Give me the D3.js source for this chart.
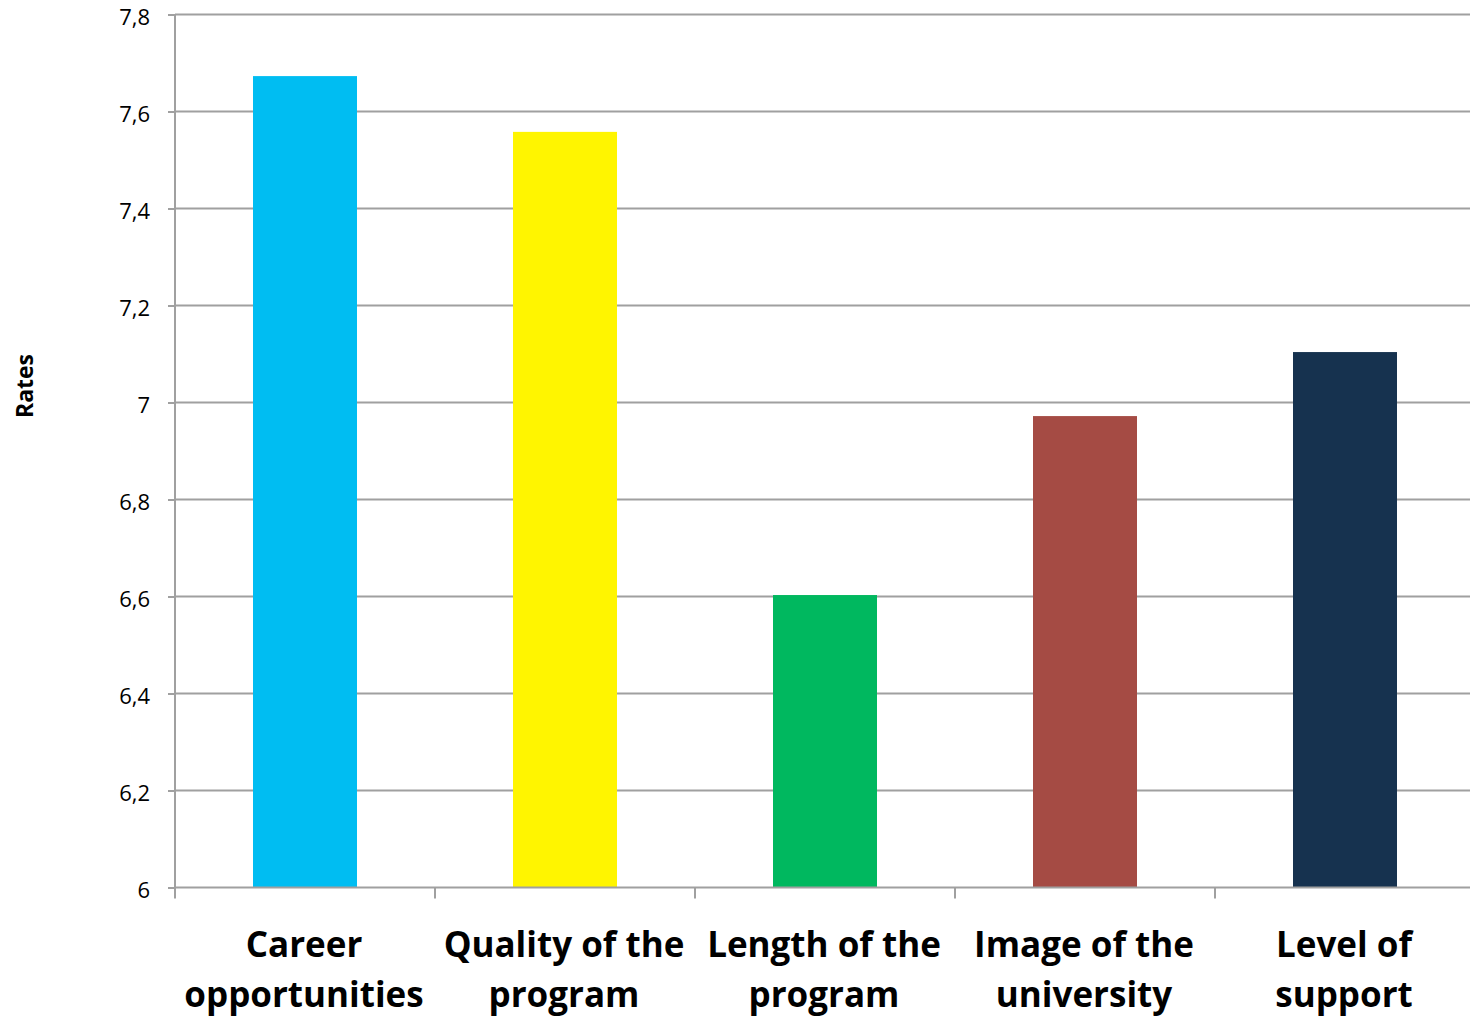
<!DOCTYPE html>
<html>
<head>
<meta charset="utf-8">
<script src="https://cdn.jsdelivr.net/npm/d3@7"></script>
<style>
  html, body { margin: 0; padding: 0; background: #fff; }
  svg { display: block; }
  text { font-family: "Open Sans", Lato, sans-serif; fill: #000; }
</style>
</head>
<body>
<svg id="chart" width="1470" height="1017"></svg>
<script>
// Survey rates per criterion
const categories = [
  ["Career", "opportunities"],
  ["Quality of the", "program"],
  ["Length of the", "program"],
  ["Image of the", "university"],
  ["Level of", "support"]
];
const rates = [7.673, 7.558, 6.603, 6.972, 7.104];
const colors = ["#00BDF2", "#FFF500", "#00B85F", "#A54B44", "#16324F"];
const yTicks = [6, 6.2, 6.4, 6.6, 6.8, 7, 7.2, 7.4, 7.6, 7.8];
const yLabel = "Rates";

const svg = d3.select("#chart");
const plotLeft = 175, plotRight = 1475, plotTop = 14.5, plotBottom = 887.5;

const x = d3.scaleBand()
  .domain(d3.range(categories.length))
  .range([plotLeft, plotRight])
  .paddingInner(0.6)
  .paddingOuter(0.3);

const y = d3.scaleLinear().domain([6, 7.8]).range([plotBottom, plotTop]);

const fmt = v => String(+v.toFixed(1)).replace(".", ",");

// horizontal gridlines
svg.append("g")
  .selectAll("line")
  .data(yTicks.filter(t => t > 6))
  .join("line")
  .attr("x1", plotLeft).attr("x2", 1470)
  .attr("y1", d => y(d)).attr("y2", d => y(d))
  .attr("stroke", "#a0a0a0").attr("stroke-width", 2);

// bars
svg.append("g")
  .selectAll("rect")
  .data(rates)
  .join("rect")
  .attr("x", (d, i) => x(i))
  .attr("width", x.bandwidth())
  .attr("y", d => y(d))
  .attr("height", d => y(6) - y(d))
  .attr("fill", (d, i) => colors[i]);

// y axis
const yAxis = svg.append("g")
  .attr("transform", `translate(${plotLeft},0)`)
  .call(d3.axisLeft(y).tickValues(yTicks).tickFormat(fmt).tickSize(7).tickPadding(18));
yAxis.select(".domain").attr("stroke", "#a0a0a0").attr("stroke-width", 2)
  .attr("d", `M0,${plotTop}V${plotBottom}`);
yAxis.selectAll(".tick line").attr("stroke", "#a0a0a0").attr("stroke-width", 2);
yAxis.selectAll(".tick text")
  .style("font-family", "'Open Sans', Lato, sans-serif")
  .style("font-size", "22px").attr("fill", "#000")
  .attr("dy", "0.45em");

// x axis baseline and category boundary ticks
const xb = svg.append("g");
xb.append("line")
  .attr("x1", plotLeft).attr("x2", 1470)
  .attr("y1", plotBottom).attr("y2", plotBottom)
  .attr("stroke", "#a0a0a0").attr("stroke-width", 2);
xb.selectAll("line.tk")
  .data(d3.range(categories.length))
  .join("line")
  .attr("class", "tk")
  .attr("x1", i => x(i) - x.step() * x.paddingOuter())
  .attr("x2", i => x(i) - x.step() * x.paddingOuter())
  .attr("y1", plotBottom).attr("y2", plotBottom + 11)
  .attr("stroke", "#a0a0a0").attr("stroke-width", 2);

// category labels
const lab = svg.append("g")
  .selectAll("text")
  .data(categories)
  .join("text")
  .attr("text-anchor", "middle")
  .attr("x", (d, i) => x(i) + x.bandwidth() / 2 - 1)
  .attr("y", 957)
  .style("font-size", "35px")
  .style("font-weight", "bold");
lab.selectAll("tspan")
  .data(d => d)
  .join("tspan")
  .attr("x", function() { return this.parentNode.getAttribute("x"); })
  .attr("dy", (d, j) => j === 0 ? 0 : 50)
  .text(d => d);

// y axis title
svg.append("text")
  .attr("transform", `translate(33,${(plotTop + plotBottom) / 2 - 65}) rotate(-90)`)
  .attr("text-anchor", "middle")
  .style("font-size", "23px")
  .style("font-weight", "bold")
  .text(yLabel);
</script>
</body>
</html>
